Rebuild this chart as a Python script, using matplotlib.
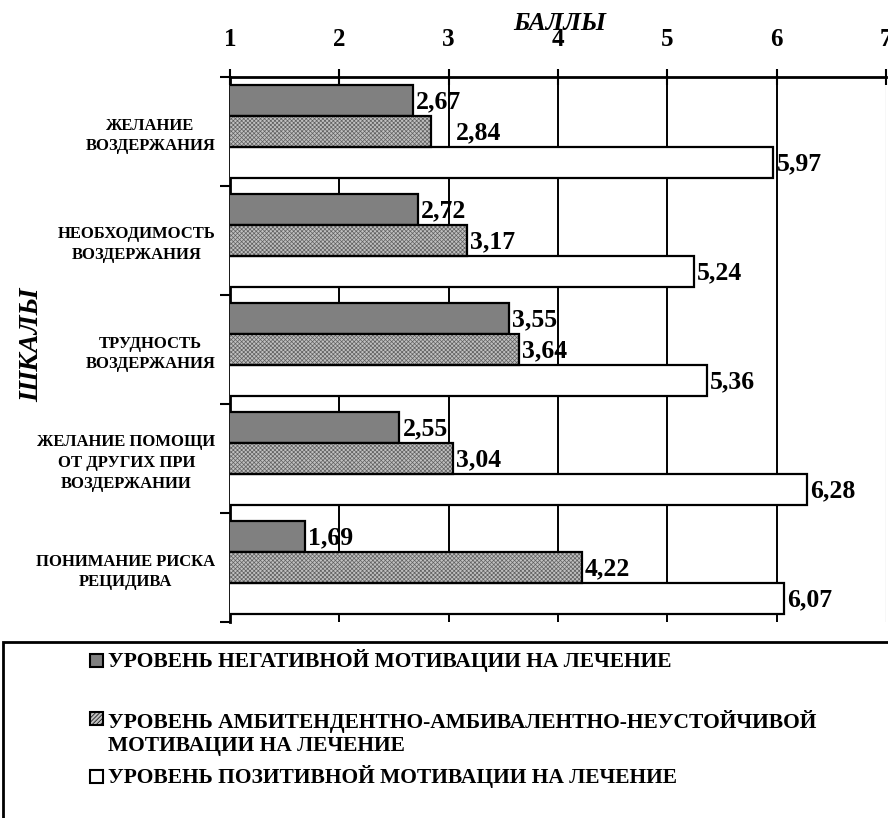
import matplotlib
matplotlib.use("Agg")
import matplotlib.pyplot as plt
from matplotlib.patches import Rectangle
import numpy as np

plt.rcParams['font.family'] = ['Liberation Serif', 'DejaVu Serif']
plt.rcParams['font.weight'] = 'bold'
plt.rcParams['hatch.linewidth'] = 0.5

categories = ["ЖЕЛАНИЕ\nВОЗДЕРЖАНИЯ", "НЕОБХОДИМОСТЬ\nВОЗДЕРЖАНИЯ", "ТРУДНОСТЬ\nВОЗДЕРЖАНИЯ",
              "ЖЕЛАНИЕ ПОМОЩИ\nОТ ДРУГИХ ПРИ\nВОЗДЕРЖАНИИ", "ПОНИМАНИЕ РИСКА\nРЕЦИДИВА"]
negative = [2.67, 2.72, 3.55, 2.55, 1.69]
ambivalent = [2.84, 3.17, 3.64, 3.04, 4.22]
positive = [5.97, 5.24, 5.36, 6.28, 6.07]
series_names = ["УРОВЕНЬ НЕГАТИВНОЙ МОТИВАЦИИ НА ЛЕЧЕНИЕ",
                "УРОВЕНЬ АМБИТЕНДЕНТНО-АМБИВАЛЕНТНО-НЕУСТОЙЧИВОЙ\nМОТИВАЦИИ НА ЛЕЧЕНИЕ",
                "УРОВЕНЬ ПОЗИТИВНОЙ МОТИВАЦИИ НА ЛЕЧЕНИЕ"]
x_ticks = [1, 2, 3, 4, 5, 6, 7]

W, H = 888, 818
fig = plt.figure(figsize=(W / 100, H / 100), dpi=100)

def fx(px):
    return px / W

def fy(py):
    return 1 - py / H

ax = fig.add_axes([fx(230), fy(622), fx(886) - fx(230), fy(77) - fy(622)])

y = np.arange(len(categories))
bh = 0.284
offsets = [-bh, 0, bh]

# gridlines behind bars
for xv in x_ticks[1:-1]:
    ax.axvline(xv, color='black', lw=1.4, zorder=1)
ax.axvline(x_ticks[-1], color='#d8d8d8', lw=1.0, zorder=1)

ax.barh(y + offsets[0], negative, height=bh, color='#808080', edgecolor='black', lw=1.6, zorder=3)
ax.barh(y + offsets[1], ambivalent, height=bh, color='#c0c0c0', edgecolor='#606060', hatch='xxxxxxxx', lw=0, zorder=3)
ax.barh(y + offsets[1], ambivalent, height=bh, fill=False, edgecolor='black', lw=1.6, zorder=4)
ax.barh(y + offsets[2], positive, height=bh, color='white', edgecolor='black', lw=1.6, zorder=3)

label_shift = {(0, 1): 22}
for si, vals in enumerate([negative, ambivalent, positive]):
    for ci, v in enumerate(vals):
        dx = 3 + label_shift.get((ci, si), 0)
        ax.annotate(f"{v:.2f}".replace('.', ','), xy=(v, y[ci] + offsets[si]),
                    xytext=(dx * 0.72, -1), textcoords='offset points',
                    ha='left', va='center', fontsize=18.5, fontweight='bold', zorder=6,
                    annotation_clip=False)

ax.set_xlim(1, 7)
ax.set_ylim(len(categories) - 0.5, -0.5)
ax.xaxis.set_ticks_position('top')
ax.set_xticks(x_ticks)
ax.set_xticklabels([str(t) for t in x_ticks], fontsize=18, fontweight='bold')
ax.tick_params(axis='x', direction='inout', length=12, width=1.5, pad=13)

ax.set_yticks(y)
ax.set_yticklabels(categories, fontsize=12, fontweight='bold', multialignment='center', linespacing=1.4)
ax.set_yticks(np.arange(len(categories) + 1) - 0.5, minor=True)
ax.tick_params(axis='y', which='major', length=0, pad=10.5)
ax.tick_params(axis='y', which='minor', direction='out', length=7, width=1.5)

for s in ['right', 'bottom']:
    ax.spines[s].set_visible(False)
ax.spines['top'].set_linewidth(2)
ax.spines['left'].set_linewidth(2)

fig.text(fx(560), fy(23), "БАЛЛЫ", fontsize=18.5, fontweight='bold', style='italic', ha='center', va='center')
fig.text(fx(32), fy(345), "ШКАЛЫ", fontsize=20, fontweight='bold', style='italic', ha='center', va='center', rotation=90)

# legend box
fig.add_artist(Rectangle((fx(3), -0.05), 1.1, fy(642) + 0.05, transform=fig.transFigure,
                         fill=False, edgecolor='black', lw=2, clip_on=False))

legend_y = [660, 733, 776]
styles = [dict(facecolor='#808080'), dict(facecolor='#c0c0c0', hatch='////////'), dict(facecolor='white')]
marker_y = [660, 718, 776]
for i in range(3):
    fig.add_artist(Rectangle((fx(90), fy(marker_y[i] + 6.5)), fx(103) - fx(90), fy(0) - fy(13),
                             transform=fig.transFigure, edgecolor='black', lw=1.5, **styles[i]))
    fig.text(fx(108), fy(legend_y[i]), series_names[i], fontsize=15.5, fontweight='bold',
             ha='left', va='center', linespacing=1.25)

fig.savefig("out.png", dpi=100)
